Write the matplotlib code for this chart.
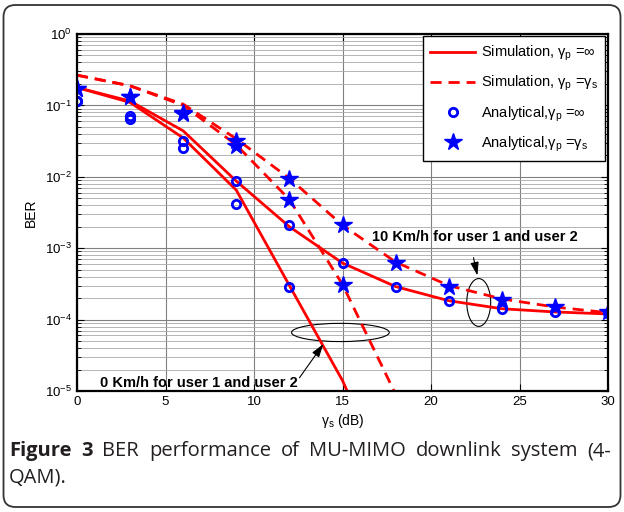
"""
BER of MU-MIMO downlink (4-QAM): simulation vs analytical, 0 and 10 Km/h
"""
import numpy as np
import matplotlib
matplotlib.use("Agg")
import matplotlib.pyplot as plt
from matplotlib.patches import Ellipse, FancyBboxPatch
from matplotlib.ticker import LogLocator, NullFormatter, MultipleLocator

plt.rcParams["font.family"] = ["Liberation Sans", "DejaVu Sans"]
plt.rcParams["mathtext.fontset"] = "custom"
plt.rcParams["mathtext.rm"] = "Liberation Sans"
plt.rcParams["mathtext.it"] = "Liberation Sans:italic"
plt.rcParams["mathtext.bf"] = "Liberation Sans:bold"

# SNR points (dB)
snr = [0, 3, 6, 9, 12, 15, 18, 21, 24, 27, 30]
snr_0kmh = [0, 3, 6, 9, 12, 15, 18]

# Simulation curves
sim_inf_10kmh = [0.178, 0.115, 0.044, 0.0087, 0.0020, 6.2e-4, 2.9e-4, 1.84e-4, 1.42e-4, 1.28e-4, 1.2e-4]
sim_inf_0kmh = [0.178, 0.11, 0.035, 0.0065, 3.0e-4, 1.4e-5, 3e-7]
sim_s_10kmh = [0.265, 0.188, 0.104, 0.034, 0.0095, 0.0021, 6.4e-4, 3.0e-4, 1.95e-4, 1.5e-4, 1.25e-4]
sim_s_0kmh = [0.265, 0.188, 0.10, 0.028, 0.0048, 3.1e-4, 9e-6]

# Analytical points
an_inf_10kmh = [0.116, 0.070, 0.032, 0.0087, 0.0021, 6.3e-4, 2.9e-4, 1.84e-4, 1.39e-4, 1.26e-4, 1.22e-4]
an_inf_0kmh = [0.116, 0.064, 0.025, 0.0041, 2.9e-4]
an_s_10kmh = [0.172, 0.13, 0.079, 0.032, 0.0092, 0.0021, 6.2e-4, 2.9e-4, 1.9e-4, 1.49e-4, 1.27e-4]
an_s_0kmh = [0.172, 0.13, 0.076, 0.027, 0.0048, 3.1e-4]

caption_line1 = ["Figure", "3", "BER", "performance", "of", "MU-MIMO", "downlink", "system", "(4-"]
caption_line2 = "QAM)."

RED = "#ff0000"
BLUE = "#0000ff"

fig = plt.figure(figsize=(6.24, 5.12), dpi=100)
ax = fig.add_axes([0.1234, 0.2363, 0.851, 0.6973])

l1, = ax.semilogy(snr, sim_inf_10kmh, color=RED, lw=2)
ax.semilogy(snr_0kmh, sim_inf_0kmh, color=RED, lw=2)
l2, = ax.semilogy(snr, sim_s_10kmh, color=RED, lw=2, dashes=(4, 2.5))
ax.semilogy(snr_0kmh, sim_s_0kmh, color=RED, lw=2, dashes=(4, 2.5))
m1, = ax.semilogy(snr, an_inf_10kmh, "o", ms=6, mfc="none", mec=BLUE, mew=2)
ax.semilogy(snr_0kmh[:len(an_inf_0kmh)], an_inf_0kmh, "o", ms=6, mfc="none", mec=BLUE, mew=2)
m2, = ax.semilogy(snr, an_s_10kmh, "*", ms=13, color=BLUE)
ax.semilogy(snr_0kmh[:len(an_s_0kmh)], an_s_0kmh, "*", ms=13, color=BLUE)

ax.set_xlim(0, 30)
ax.set_ylim(1e-5, 1)
ax.xaxis.set_major_locator(MultipleLocator(5))
ax.yaxis.set_major_locator(LogLocator(base=10))
ax.yaxis.set_minor_locator(LogLocator(base=10, subs=np.arange(2, 10)))
ax.yaxis.set_minor_formatter(NullFormatter())
ax.tick_params(which="both", direction="in", top=True, right=True, labelsize=9.5)
ax.tick_params(which="major", length=5)
ax.tick_params(which="minor", length=3)
ax.set_axisbelow(True)
ax.grid(True, which="major", color="#808080", lw=0.8)
ax.grid(True, which="minor", axis="y", color="#a8a8a8", lw=0.6)
for s in ax.spines.values():
    s.set_linewidth(1.6)

ax.set_xlabel("γ$_\\mathrm{s}$ (dB)", fontsize=10, labelpad=3)
ax.set_ylabel("BER", fontsize=10, labelpad=5)

leg = ax.legend([l1, l2, m1, m2],
                ["Simulation, γ$_\\mathrm{p}$ =∞", "Simulation, γ$_\\mathrm{p}$ =γ$_\\mathrm{s}$",
                 "Analytical,γ$_\\mathrm{p}$ =∞", "Analytical,γ$_\\mathrm{p}$ =γ$_\\mathrm{s}$"],
                loc="upper right", bbox_to_anchor=(0.995, 0.993), borderaxespad=0,
                fancybox=False, edgecolor="black", framealpha=1, fontsize=10.5,
                labelspacing=0.75, handlelength=3.1, handletextpad=0.4, borderpad=0.5)
leg.get_frame().set_linewidth(1.0)

# annotations
ax.text(22.45, 1.43e-3, "10 Km/h for user 1 and user 2", ha="center", va="center",
        fontweight="bold", fontsize=10.5)
ax.text(6.88, 1.3e-5, "0 Km/h for user 1 and user 2", ha="center", va="center",
        fontweight="bold", fontsize=10.5)
ax.add_patch(Ellipse((0.7565, 0.248), 0.045, 0.134, transform=ax.transAxes,
                     fill=False, ec="black", lw=0.8))
ax.add_patch(Ellipse((0.496, 0.164), 0.184, 0.051, transform=ax.transAxes,
                     fill=False, ec="black", lw=0.8))
arrow = dict(arrowstyle="-|>,head_length=0.8,head_width=0.25", color="black", lw=0.8)
ax.annotate("", xy=(0.7551, 0.316), xytext=(0.7456, 0.381), xycoords="axes fraction", arrowprops=arrow)
ax.annotate("", xy=(0.467, 0.138), xytext=(0.416, 0.031), xycoords="axes fraction", arrowprops=arrow)

# caption, first line justified between x=9 and x=611 px
cap_kw = dict(fontsize=14.5, color="#231f20", family=["Open Sans", "DejaVu Sans"], va="baseline")
renderer = fig.canvas.get_renderer()
words = []
for i, w in enumerate(caption_line1):
    words.append(fig.text(0, 1 - 456 / 512, w, fontweight="bold" if i < 2 else "normal", **cap_kw))
widths = [w.get_window_extent(renderer).width for w in words]
gap = (611 - 9 - sum(widths)) / (len(words) - 1)
x = 9
for w, wd in zip(words, widths):
    w.set_x(x / 624)
    x += wd + gap
fig.text(9 / 624, 1 - 482 / 512, caption_line2, **cap_kw)

# rounded outer frame
fig.add_artist(FancyBboxPatch((3.5, 5), 617, 502, boxstyle="round,pad=0,rounding_size=12",
                              transform=None, fill=False, ec="#333333", lw=1.3))

plt.savefig("out.png", dpi=100)
plt.close()
